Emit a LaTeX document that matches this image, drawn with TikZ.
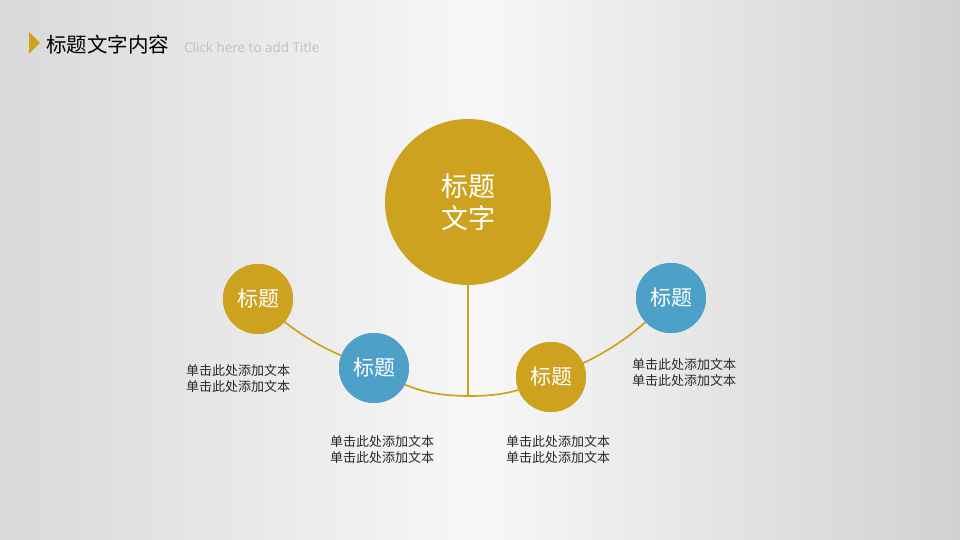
\documentclass[tikz,border=0pt]{standalone}
\usepackage{fontspec}
\setmainfont{Noto Sans CJK SC}
\setsansfont{Open Sans}
\definecolor{gold}{RGB}{205,162,31}
\definecolor{skyb}{RGB}{77,161,201}
\definecolor{txt}{RGB}{40,40,40}
\definecolor{hint}{RGB}{192,192,192}
\begin{document}
\begin{tikzpicture}[x=1pt,y=-1pt,
  bigc/.style={circle,fill=gold,minimum size=166pt,inner sep=0pt,text=white,font=\fontsize{27}{32}\selectfont,align=center},
  goldc/.style={circle,fill=gold,minimum size=70pt,inner sep=0pt,text=white,font=\fontsize{21}{24}\selectfont},
  bluec/.style={circle,fill=skyb,minimum size=70pt,inner sep=0pt,text=white,font=\fontsize{21}{24}\selectfont},
  link/.style={draw=gold,line width=1.7pt},
  desc/.style={text=txt,font=\fontsize{13}{16}\selectfont,align=center,inner sep=0pt}]
\shade[left color=gray!30,right color=gray!36,middle color=gray!6] (0,0) rectangle (960,540);
\useasboundingbox (0,0) rectangle (960,540);
% title
\fill[gold] (29,32) -- (40,43) -- (29,54) -- cycle;
\node[anchor=west,inner sep=0pt,text=black,font=\fontsize{20.5}{24}\selectfont] (title) at (46,45) {标题文字内容};
\node[anchor=west,inner sep=0pt,text=hint,font=\sffamily\fontsize{13.5}{16}\selectfont] (sub) at (184,47) {Click here to add Title};
% nodes
\coordinate (bot) at (468,396);
\node[bigc] (big) at (468,202) {标题\\文字};
\node[goldc] (g1) at (258,299) {};
\node[bluec] (b1) at (374,368) {};
\node[goldc] (g2) at (551,377) {};
\node[bluec] (b2) at (671,298) {};
% connectors
\draw[link] (big.south) -- (bot);
\draw[link] (g1.center) to[bend right=12] (b1.center);
\draw[link] (b1.center) to[bend right=16] (bot);
\draw[link] (bot) to[bend right=13] (g2.center);
\draw[link] (g2.center) to[bend right=12] (b2.center);
% circles on top of the connectors
\node[goldc] at (g1) {标题};
\node[bluec] at (b1) {标题};
\node[goldc] at (g2) {标题};
\node[bluec] at (b2) {标题};
% texts
\node[desc] (t1) at (238,379) {单击此处添加文本\\单击此处添加文本};
\node[desc] (t2) at (382,450) {单击此处添加文本\\单击此处添加文本};
\node[desc] (t3) at (558,450) {单击此处添加文本\\单击此处添加文本};
\node[desc] (t4) at (684,373) {单击此处添加文本\\单击此处添加文本};
\end{tikzpicture}
\end{document}
